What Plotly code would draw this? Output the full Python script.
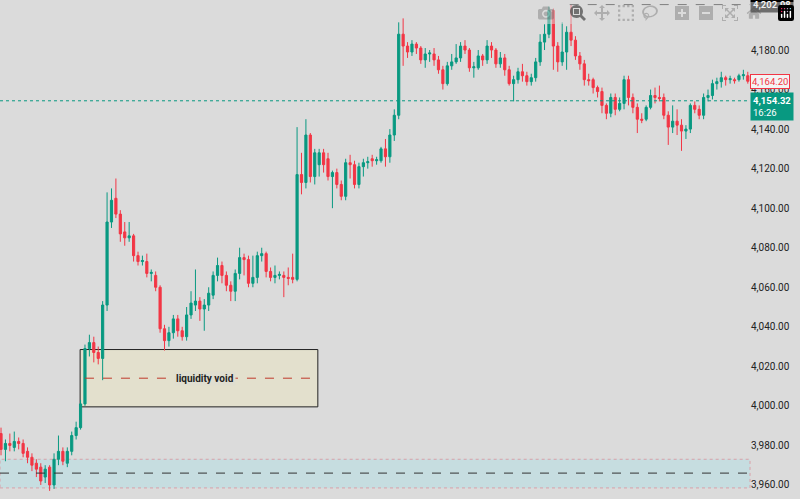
import plotly.graph_objects as go

opens = [3986,3978,3981,3979,3982,3981,3977,3974,3971,3969,3964,3969,3960,3973,3977,3971,3977,3985,3989,4001,
 4029,4032,4027,4024,4051,4093,4105,4097,4088,4085,4086,4076,4073,4073,4067,4066,4060,4039,4033,4037,
 4044,4038,4035,4046,4051,4053,4049,4051,4056,4066,4071,4066,4061,4058,4067,4075,4074,4062,4065,4076,
 4077,4068,4065,4066,4066,4065,4065,4064,4117,4113,4137,4116,4122,4128,4125,4116,4118,4112,4106,4123,
 4122,4112,4121,4123,4125,4124,4124,4130,4126,4137,4147,4188,4182,4179,4183,4181,4175,4178,4178,4175,
 4170,4163,4172,4174,4176,4182,4180,4171,4171,4177,4175,4182,4180,4173,4176,4170,4163,4165,4169,4167,
 4164,4166,4174,4184,4188,4200,4182,4174,4179,4189,4185,4177,4173,4165,4165,4161,4159,4152,4148,4156,
 4150,4153,4165,4156,4151,4145,4145,4151,4157,4156,4156,4147,4141,4144,4142,4139,4140,4152,4150,4147,
 4156,4157,4163,4164,4166,4165,4165,4165,4167,4167]
closes = [3978,3981,3980,3982,3981,3976,3974,3970,3968,3962,3968,3960,3973,3977,3972,3977,3985,3989,4001,4029,
 4032,4027,4024,4051,4093,4104,4097,4087,4085,4086,4076,4073,4073.5,4067,4067.5,4060,4039,4033,4037,4044,
 4038,4035,4046,4052,4053,4049,4051,4057,4066,4071,4066,4061,4058,4067,4075,4074,4062,4065,4076,4077,
 4068,4065,4066,4066.5,4065,4064.5,4064,4117,4113,4137,4116,4128,4128,4122,4116,4118,4112,4106,4123,4122,
 4112,4121,4123,4123.5,4124,4124.5,4130,4126,4137,4147,4188,4182,4179,4183,4181,4175,4178,4178.5,4175,4170,
 4163,4172,4174,4176,4182,4180,4171,4171.5,4177,4175,4182,4180,4173,4176,4170,4163,4165,4169,4167,4164,
 4166,4174,4184,4188,4200,4182,4174,4179,4189,4185,4177,4173,4165,4164.5,4161,4159,4152,4148,4156,4150,
 4153,4165,4156,4151,4145,4144.5,4151,4157,4156,4155.5,4147,4141,4144,4142,4139,4140,4152,4150,4147,4156,
 4157,4163,4164,4166,4165,4165.5,4164.5,4167,4167.5,4164.2]
highs = [3989,3983,3986,3987,3984,3983,3979,3976,3973,3971,3970,3970,3976,3985,3979,3979,3987,3992,4003,4031,
 4036,4035,4030,4053,4108,4110,4115,4099,4093,4093,4087,4078,4076,4077,4069,4068,4061,4041,4040,4046,
 4046,4040,4050,4058,4069,4055,4054,4060,4068,4075,4073,4068,4063,4069,4080,4077,4076,4076,4078,4080,
 4078,4070,4071,4068,4068,4070,4077,4141,4128,4145,4138,4130,4130,4130,4128,4119,4120,4114,4125,4127,
 4124,4123,4125,4126,4127,4126,4131,4135,4140,4150,4194,4196,4184,4185,4184,4182,4181,4180,4181,4177,
 4172,4174,4178,4183,4184,4185,4181,4174,4180,4178,4185,4184,4181,4179,4178,4172,4167,4171,4173,4169,
 4168,4176,4188,4193,4202,4201,4184,4194,4192,4202.98,4187,4179,4175,4168,4166,4162,4161,4153,4158,4158,
 4156,4167,4167,4158,4153,4148,4152,4160,4161,4162,4158,4149,4152,4150,4145,4142,4153,4154,4152,4158,
 4160,4165,4166,4169,4167,4167,4166,4168,4170,4169]
lows = [3975,3972,3977,3977,3978,3974,3971,3967,3964,3960,3961,3957,3958,3970,3970,3969,3975,3983,3988,4000,
 4025,4022,4021,4013,4048,4090,4095,4083,4081,4083,4073,4071,4071,4065,4063,4058,4037,4028,4030,4034,
 4035,4033,4033,4044,4048,4043,4038,4048,4054,4063,4062,4058,4053,4053,4064,4066,4060,4060,4062,4073,
 4065,4063,4062,4064,4055,4061,4062,4063,4107,4110,4113,4112,4116,4118,4114,4100,4110,4104,4104,4115,
 4110,4110,4116,4120,4121,4122,4123,4121,4123,4134,4145,4172,4176,4177,4178,4173,4171,4174,4172,4168,
 4160,4162,4170,4173,4174,4178,4169,4166,4170,4172,4173,4176,4171,4171,4167,4162,4154,4163,4164,4162,
 4162,4164,4172,4180,4186,4170,4169,4172,4170,4182,4175,4170,4162,4162,4158,4156,4148,4145,4146,4147,
 4149,4150,4152,4148,4138,4143,4144,4150,4153,4154,4145,4132,4138,4137,4129,4135,4138,4148,4145,4145,
 4154,4155,4160,4161,4162,4163,4163,4164,4165,4163]
y_ticks = [3960, 3980, 4000, 4020, 4040, 4060, 4080, 4100, 4120, 4140, 4160, 4180]
y_labels = [f"{v:,.2f}" for v in y_ticks]
idx = list(range(len(closes)))

GREEN, RED = "#089981", "#f23645"
fig = go.Figure(go.Candlestick(
    x=idx, open=opens, high=highs, low=lows, close=closes, whiskerwidth=0,
    increasing=dict(line=dict(color=GREEN, width=1), fillcolor=GREEN),
    decreasing=dict(line=dict(color=RED, width=1), fillcolor=RED),
    hoverinfo="skip"))

x0, x1 = -0.23, 169.5
fig.update_layout(
    width=800, height=499, margin=dict(l=0, r=50, t=0, b=0, autoexpand=False),
    paper_bgcolor="#dbdbdb", plot_bgcolor="#dbdbdb", showlegend=False,
    xaxis=dict(range=[x0, x1], visible=False, rangeslider=dict(visible=False)),
    yaxis=dict(range=[3952.9, 4205.3], side="right", tickvals=y_ticks, ticktext=y_labels,
               showgrid=False, zeroline=False, ticks="", automargin=False,
               tickfont=dict(family="Roboto", size=10, color="#222")),
    font=dict(family="Roboto"))

fig.add_shape(type="rect", xref="paper", x0=0, x1=1, y0=3958.5, y1=3973,
              fillcolor="#c6dde0", line=dict(color="#d9a0a8", width=1, dash="dot"), layer="below")
fig.add_shape(type="line", xref="paper", x0=0, x1=1, y0=3966, y1=3966,
              line=dict(color="#333", width=1, dash="dash"))
fig.add_shape(type="rect", x0=17.9, x1=71.7, y0=3999.5, y1=4028.5,
              fillcolor="rgba(230,226,200,0.75)", line=dict(color="#222", width=1), layer="below")
fig.add_shape(type="line", x0=19, x1=71.7, y0=4014, y1=4014,
              line=dict(color="#c0392b", width=1, dash="dash"))
fig.add_annotation(x=46.1, y=4014, text="<b>liquidity void</b>", showarrow=False,
                   bgcolor="rgba(224,222,208,1)", font=dict(size=10, color="#222", family="Roboto"))
fig.add_shape(type="line", x0=128.7, x1=x1, y0=4202.98, y1=4202.98,
              line=dict(color="#222", width=1, dash="dash"))
fig.add_shape(type="line", xref="paper", x0=0, x1=1, y0=4154.32, y1=4154.32,
              line=dict(color=GREEN, width=1, dash="dot"))
fig.add_annotation(xref="paper", x=1.0, y=4202.98, xanchor="left", text="<b>4,202.98</b>", showarrow=False,
                   bgcolor="#000", font=dict(size=9.5, color="#fff"), borderpad=2)
fig.add_annotation(xref="paper", x=1.0, y=4164.2, xanchor="left", text="4,164.20", showarrow=False,
                   bgcolor="#f3f3f3", bordercolor=RED, borderwidth=1, font=dict(size=9.5, color=RED), borderpad=1)
fig.add_annotation(xref="paper", x=1.0, y=4151.5, xanchor="left", text="<b>4,154.32</b><br>16:26",
                   showarrow=False, align="left", bgcolor=GREEN, font=dict(size=9.5, color="#fff"), borderpad=2)

html = fig.to_html(full_html=True)
html = html.replace("<head>", "<head><style>html,body{margin:0;padding:0;overflow:hidden}</style>", 1)
with open("out.html", "w", encoding="utf-8") as f:
    f.write(html)
